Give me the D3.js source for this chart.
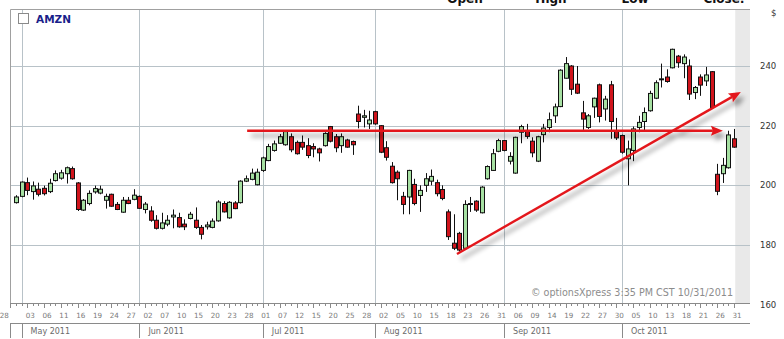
<!DOCTYPE html>
<html><head><meta charset="utf-8">
<script src="https://cdn.jsdelivr.net/npm/d3@7"></script>
<style>body{margin:0;background:#fff}svg{display:block}</style>
</head><body>
<svg id="chart" width="784" height="339"></svg>
<script>
// AMZN daily candles, Apr 29 2011 .. Oct 31 2011 (day index 1..129, Apr 28 = 0)
var openP = [194.2,196.3,200.9,197.9,198.7,199.0,197.9,201.6,202.4,203.9, 205.6,200.8,191.7,193.9,197.8,197.4,195.0,197.0,193.6,191.0,
  195.0,195.3,196.3,191.9,191.4,188.3,185.6,187.0,189.4,189.2, 187.0,188.9,188.3,185.9,186.1,185.9,188.1,193.9,189.1,194.1,
  194.2,201.4,202.0,200.2,205.0,208.3,211.7,214.1,213.6,216.3, 214.4,214.4,213.3,213.0,212.2,213.3,219.7,216.3,213.3,215.2,
  214.7,223.9,222.8,220.6,224.7,220.0,212.6,206.4,204.4,196.3, 196.1,200.3,196.6,200.0,201.4,200.9,198.6,191.1,180.6,183.9,
  178.9,193.6,194.7,190.8,202.2,205.0,211.4,215.0,208.1,204.1, 217.8,218.1,214.8,208.1,217.0,219.4,223.3,226.4,235.9,240.0,
  233.9,224.3,219.4,226.3,233.7,225.6,233.7,218.1,216.7,208.9, 211.7,219.4,221.4,225.0,229.2,235.5,236.3,239.4,243.3,240.8,
  240.0,231.1,236.3,235.0,238.1,203.7,203.9,205.9,215.6];
var highP = [196.7,201.3,202.6,201.3,200.9,199.9,202.2,205.0,205.2,206.3, 206.3,201.1,195.4,198.3,199.9,199.9,197.2,197.2,194.4,196.1,
  196.1,198.7,196.6,194.4,193.0,190.0,190.8,190.0,191.9,190.8, 188.6,191.1,192.6,186.7,187.8,188.9,195.0,194.7,194.7,194.7,
  201.7,203.3,205.6,205.6,209.6,213.9,215.0,217.2,218.3,217.4, 215.0,216.7,215.8,214.1,212.6,217.8,219.9,217.2,217.4,215.6,
  215.0,226.7,225.3,225.0,225.0,220.2,214.8,207.8,205.0,197.8, 205.2,202.2,200.0,204.1,205.3,201.9,200.0,191.9,190.3,184.4,
  195.0,196.1,195.0,199.7,206.7,212.2,215.6,215.2,211.1,216.3, 220.3,220.6,216.1,216.6,220.6,224.4,227.4,238.9,243.0,240.3,
  240.0,228.3,223.9,229.4,234.1,230.0,235.0,222.6,217.0,215.0, 219.7,223.3,226.1,231.7,235.2,240.8,238.9,245.8,243.7,243.9,
  242.2,233.3,237.2,239.7,238.3,207.2,209.2,218.3,218.9];
var lowP = [193.9,196.0,196.7,195.2,196.3,196.6,197.4,201.3,201.9,200.6, 201.9,191.4,191.4,193.3,197.2,197.0,192.2,192.8,191.7,190.8,
  193.7,195.0,192.1,190.6,187.8,185.2,185.2,186.3,185.6,185.8, 185.0,188.6,185.4,181.9,185.2,185.6,187.8,190.9,188.8,192.0,
  193.9,201.1,201.7,200.0,204.5,208.1,211.3,213.9,213.3,211.1, 210.3,211.9,209.1,209.4,208.0,213.0,214.4,211.1,210.9,212.6,
  210.2,219.1,219.4,218.9,220.3,210.8,208.3,200.6,195.0,190.3, 190.3,193.3,191.1,197.8,200.0,196.3,195.0,181.7,178.3,177.8,
  178.6,191.1,191.1,190.6,201.9,204.8,211.1,211.4,207.0,203.9, 214.1,215.6,209.4,207.8,214.4,217.8,220.9,226.2,235.8,230.3,
  230.6,218.6,218.9,222.6,221.1,221.7,215.6,215.2,210.6,200.0, 208.1,217.8,218.1,224.7,228.9,232.8,234.4,239.2,239.4,235.9,
  228.6,228.9,230.0,233.3,225.6,196.7,200.8,205.6,212.6];
var closeP = [196.1,201.1,198.3,199.8,197.0,197.2,200.7,203.9,204.2,205.9, 202.2,191.9,195.0,197.3,198.9,198.7,196.3,193.0,191.9,195.0,
  193.9,196.7,192.3,193.7,188.3,185.6,187.4,188.3,190.0,186.1, 186.1,190.3,185.9,183.6,186.7,188.0,194.4,191.1,194.3,192.2,
  201.4,202.2,204.1,204.4,209.2,213.0,213.9,216.3,218.0,211.9, 210.6,212.8,210.0,212.2,210.9,217.4,214.8,212.6,216.3,212.8,
  213.6,221.4,223.3,221.9,220.6,211.1,209.4,200.9,202.2,193.6, 205.0,193.9,198.3,202.2,203.0,197.2,195.6,182.8,178.9,178.3,
  193.6,193.9,191.7,199.4,206.3,210.6,215.0,211.7,209.7,216.1, 219.7,216.4,210.9,216.3,219.2,222.0,226.3,238.6,240.8,232.2,
  230.9,222.2,223.3,229.2,223.1,228.9,221.4,215.9,211.1,212.2, 218.9,221.1,224.4,230.8,234.4,235.7,234.8,245.6,241.1,243.0,
  230.6,232.8,233.6,237.0,226.1,198.0,206.7,216.9,212.8];
var firstDay = 1;

// day labels, every 3rd trading day starting at Apr 28 (index 0)
var tickLabels = ['28','03','06','11','16','19','24','27','02','07','10','15','20','23','28','01','07','12','15','20','25','28',
  '02','05','10','15','18','23','26','31','06','09','14','19','22','27','30','05','10','13','18','21','26','31'];
var monthNames = ['May 2011','Jun 2011','Jul 2011','Aug 2011','Sep 2011','Oct 2011'];
var monthStart = [2, 23, 45, 65, 88, 109];
var priceTicks = [160, 180, 200, 220, 240];
var headerLabels = ['Open', 'High', 'Low', 'Close:'];
var headerX = [465, 551, 635, 724];

// trend lines drawn on the chart: [day index, price]
var flatLine = [[42.2, 218.3], [127.0, 218.3]];
var upLine = [[79.6, 177.0], [130.2, 231.3]];

var L = 10, R = 750, T = 9, B = 303;
var svg = d3.select('#chart');
var x = d3.scaleLinear().domain([0, 129]).range([10.4, 734.1]);
var y = d3.scaleLinear().domain([180, 240]).range([245, 66]);
var FONT = '"DejaVu Sans", Verdana, sans-serif';

var defs = svg.append('defs');
var f = defs.append('filter').attr('id', 'shadow').attr('x', '-10%').attr('y', '-60%').attr('width', '130%').attr('height', '320%');
f.append('feGaussianBlur').attr('in', 'SourceAlpha').attr('stdDeviation', 2.5);
f.append('feOffset').attr('dx', 4).attr('dy', 5).attr('result', 'ob');
f.append('feComponentTransfer').append('feFuncA').attr('type', 'linear').attr('slope', 0.42);
var fm = f.append('feMerge');
fm.append('feMergeNode');
fm.append('feMergeNode').attr('in', 'SourceGraphic');
defs.append('clipPath').attr('id', 'plotclip').append('rect').attr('x', L).attr('y', T).attr('width', R - L).attr('height', B - T);

// header (cut off at top, as in the source)
svg.append('g').selectAll('text').data(headerLabels).enter().append('text')
  .attr('x', function(d, i) { return headerX[i]; }).attr('y', 2.5).attr('text-anchor', 'middle')
  .attr('font-family', FONT).attr('font-weight', 'bold').attr('font-size', 12).attr('fill', '#111')
  .text(function(d) { return d; });

// grey band for the current day
svg.append('rect').attr('x', x(129.2)).attr('y', T).attr('width', R - x(129.2)).attr('height', B - T).attr('fill', '#e9e9e9');

// grid
var grid = svg.append('g').attr('stroke', '#b8c2c8').attr('stroke-width', 1);
grid.selectAll('.hg').data(priceTicks.filter(function(v) { return y(v) > T && y(v) < B; })).enter().append('line')
  .attr('x1', L).attr('x2', R).attr('y1', function(d) { return Math.round(y(d)) + 0.5; }).attr('y2', function(d) { return Math.round(y(d)) + 0.5; });
grid.selectAll('.vg').data(monthStart).enter().append('line')
  .attr('x1', function(d) { return Math.round(x(d)) + 0.5; }).attr('x2', function(d) { return Math.round(x(d)) + 0.5; })
  .attr('y1', T).attr('y2', B);

// frame
svg.append('path').attr('d', 'M' + (L + 0.5) + ',' + B + 'V' + (T + 0.5) + 'H' + R)
  .attr('fill', 'none').attr('stroke', '#a0a0a0');

// candles
var candles = d3.range(openP.length).map(function(k) {
  return { i: k + firstDay, o: openP[k], h: highP[k], l: lowP[k], c: closeP[k] };
});
var cg = svg.append('g').attr('clip-path', 'url(#plotclip)');
cg.selectAll('line.wick').data(candles).enter().append('line').attr('class', 'wick')
  .attr('x1', function(d) { return Math.round(x(d.i)) + 0.5; }).attr('x2', function(d) { return Math.round(x(d.i)) + 0.5; })
  .attr('y1', function(d) { return y(d.h); }).attr('y2', function(d) { return y(d.l); })
  .attr('stroke', '#111').attr('stroke-width', 1);
cg.selectAll('rect.body').data(candles).enter().append('rect').attr('class', 'body')
  .attr('x', function(d) { return Math.round(x(d.i)) - 1.5; })
  .attr('width', 4)
  .attr('y', function(d) { return y(Math.max(d.o, d.c)); })
  .attr('height', function(d) { return Math.max(1, Math.abs(y(d.o) - y(d.c))); })
  .attr('fill', function(d) { return d.c >= d.o ? '#a6e0a2' : '#d0141c'; })
  .attr('stroke', '#111').attr('stroke-width', 1);

// trend arrows
function arrow(g, pts) {
  var x1 = x(pts[0][0]), y1 = y(pts[0][1]), x2 = x(pts[1][0]), y2 = y(pts[1][1]);
  var a = Math.atan2(y2 - y1, x2 - x1), len = 12, w = 5;
  var bx = x2 - len * Math.cos(a), by = y2 - len * Math.sin(a);
  g.append('line').attr('x1', x1).attr('y1', y1).attr('x2', bx + 2 * Math.cos(a)).attr('y2', by + 2 * Math.sin(a))
    .attr('stroke', '#e3191b').attr('stroke-width', 2.4);
  g.append('path').attr('d', 'M' + x2 + ',' + y2 +
    'L' + (bx - w * Math.sin(a)) + ',' + (by + w * Math.cos(a)) +
    'L' + (bx + 2 * Math.cos(a)) + ',' + (by + 2 * Math.sin(a)) +
    'L' + (bx + w * Math.sin(a)) + ',' + (by - w * Math.cos(a)) + 'Z').attr('fill', '#e3191b');
}
var ag = svg.append('g').attr('filter', 'url(#shadow)');
arrow(ag, flatLine);
arrow(ag, upLine);

// symbol box
svg.append('rect').attr('x', 18.5).attr('y', 13.5).attr('width', 10).attr('height', 10).attr('fill', '#fff').attr('stroke', '#8a8a8a');
svg.append('text').attr('x', 36).attr('y', 22.5).attr('font-family', FONT).attr('font-weight', 'bold').attr('font-size', 10.5)
  .attr('fill', '#1a1f8a').text('AMZN');

// watermark
svg.append('text').attr('x', 733).attr('y', 296).attr('text-anchor', 'end').attr('font-family', FONT).attr('font-size', 9.6)
  .attr('fill', '#8c8c8c').text('\u00a9 optionsXpress 3:35 PM CST 10/31/2011');

// right price axis
svg.append('g').selectAll('text').data(priceTicks).enter().append('text')
  .attr('x', 760).attr('y', function(d) { return y(d) + 3; })
  .attr('font-family', FONT).attr('font-size', 8.5).attr('fill', '#333').text(function(d) { return d; });
svg.append('text').attr('x', 771).attr('y', 16).attr('font-family', FONT).attr('font-size', 8.5).attr('fill', '#333').text('$');

// bottom date axis
var ax = svg.append('g').attr('stroke', '#8a8a8a').attr('stroke-width', 1);
ax.append('line').attr('x1', L).attr('x2', R).attr('y1', B + 0.5).attr('y2', B + 0.5);
ax.selectAll('.tk').data(d3.range(0, 130)).enter().append('line')
  .attr('x1', function(d) { return Math.round(x(d)) + 0.5; }).attr('x2', function(d) { return Math.round(x(d)) + 0.5; })
  .attr('y1', B).attr('y2', function(d) { return d % 3 === 0 ? B + 5 : B + 3; });
ax.append('line').attr('x1', L).attr('x2', R).attr('y1', 323.5).attr('y2', 323.5);
ax.selectAll('.ms').data([0].concat(monthStart)).enter().append('line')
  .attr('x1', function(d) { return d === 0 ? L + 0.5 : Math.round(x(d)) + 0.5; })
  .attr('x2', function(d) { return d === 0 ? L + 0.5 : Math.round(x(d)) + 0.5; })
  .attr('y1', 323).attr('y2', 338);

svg.append('g').selectAll('text').data(tickLabels).enter().append('text')
  .attr('x', function(d, j) { return j === 0 ? x(0) - 1.5 : x(j * 3) + 3; })
  .attr('text-anchor', function(d, j) { return j === 0 ? 'end' : 'middle'; })
  .attr('y', 317.5).attr('font-family', FONT).attr('font-size', 7.2).attr('fill', '#7a7a7a')
  .text(function(d) { return d; });
svg.append('g').selectAll('text').data(monthNames).enter().append('text')
  .attr('x', function(d, j) { return x(monthStart[j]) + 9; }).attr('y', 333.5)
  .attr('font-family', FONT).attr('font-size', 8).attr('fill', '#6a6a6a')
  .text(function(d) { return d; });
</script>
</body></html>
